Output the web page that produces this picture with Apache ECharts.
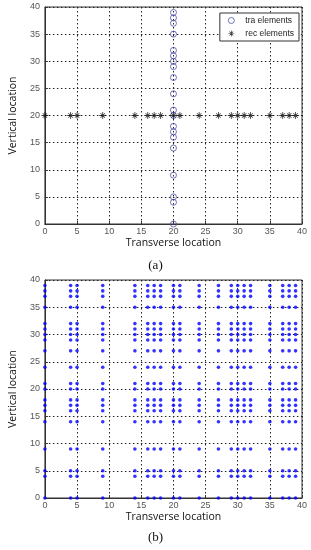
<!DOCTYPE html>
<html><head><meta charset="utf-8">
<script src="https://cdn.jsdelivr.net/npm/echarts@6/dist/echarts.min.js"></script>
<style>html,body{margin:0;padding:0;background:#fff}#c{width:311px;height:550px}</style>
</head><body><div id="c"></div>
<script>
// Data
const recX = [0,4,5,9,14,16,17,18,20,21,24,27,29,30,31,32,35,37,38,39];
const recY = 20;
const traY = [0,4,5,9,14,16,17,18,20,21,24,27,29,30,31,32,35,37,38,39];
const traX = 20;
const ticks = [0,5,10,15,20,25,30,35,40];

const traData = traY.map(y => [traX, y]);
const recData = recX.map(x => [x, recY]);
const virtData = [];
recX.forEach(x => traY.forEach(y => virtData.push([x, y])));

const star = 'path://M0 4.4H10V5.6H0Z M4.4 0H5.6V10H4.4Z M1.4 2.2L2.2 1.4L8.6 7.8L7.8 8.6Z M7.8 1.4L8.6 2.2L2.2 8.6L1.4 7.8Z';

function xAx(gi){
  return {type:'value', gridIndex:gi, min:0, max:40, interval:5,
    name:'Transverse location', nameLocation:'middle', nameGap:14,
    nameTextStyle:{fontFamily:'Open Sans', fontSize:10.5, color:'#111'},
    axisLine:{show:true, lineStyle:{color:'#333'}},
    axisTick:{show:true, inside:true, length:3, lineStyle:{color:'#333'}},
    axisLabel:{fontFamily:'Liberation Sans', fontSize:9, color:'#555', margin:3},
    splitLine:{show:true, lineStyle:{color:'#222', type:[1.5,2.5], width:1}}};
}
function yAx(gi){
  return {type:'value', gridIndex:gi, min:0, max:40, interval:5,
    name:'Vertical location', nameLocation:'middle', nameGap:22,
    nameTextStyle:{fontFamily:'Open Sans', fontSize:10.5, color:'#111'},
    axisLine:{show:true, lineStyle:{color:'#333'}},
    axisTick:{show:true, inside:true, length:3, lineStyle:{color:'#333'}},
    axisLabel:{fontFamily:'Liberation Sans', fontSize:9, color:'#555', margin:5},
    splitLine:{show:true, lineStyle:{color:'#222', type:[1.5,2.5], width:1}}};
}

const chart = echarts.init(document.getElementById('c'), null, {renderer:'canvas'});
chart.setOption({
  animation:false,
  backgroundColor:'#fff',
  grid:[
    {left:40, top:7, width:262, height:217, show:true, borderColor:'#333', borderWidth:1, backgroundColor:'#fff'},
    {left:40, top:280, width:262, height:218, show:true, borderColor:'#333', borderWidth:1, backgroundColor:'#fff'}
  ],
  xAxis:[xAx(0), xAx(1)],
  yAxis:[yAx(0), yAx(1)],
  legend:{
    data:[
      {name:'tra elements', itemStyle:{color:'rgba(255,255,255,0)', borderColor:'#5050a8', borderWidth:1}},
      {name:'rec elements'}
    ],
    orient:'vertical', right:12, top:13,
    backgroundColor:'#fff', borderColor:'#333', borderWidth:1,
    padding:[3,5,3,8], itemGap:4, itemWidth:18, itemHeight:6,
    textStyle:{fontFamily:'Liberation Sans', fontSize:8.5, color:'#222'}
  },
  graphic:[
    {type:'text', left:'center', top:259, style:{text:'(a)', font:'13px "Liberation Serif"', fill:'#111'}},
    {type:'text', left:'center', top:531, style:{text:'(b)', font:'13px "Liberation Serif"', fill:'#111'}}
  ],
  series:[
    {name:'tra elements', type:'scatter', xAxisIndex:0, yAxisIndex:0, data:traData,
     symbol:'circle', symbolSize:6, itemStyle:{color:'rgba(255,255,255,0)', borderColor:'#5050a8', borderWidth:1}},
    {name:'rec elements', type:'scatter', xAxisIndex:0, yAxisIndex:0, data:recData,
     symbol:star, symbolSize:7, itemStyle:{color:'#111'}},
    {name:'virtual', type:'scatter', xAxisIndex:1, yAxisIndex:1, data:virtData,
     symbol:'circle', symbolSize:3.6, itemStyle:{color:'#0000ff'}}
  ]
});
</script></body></html>
